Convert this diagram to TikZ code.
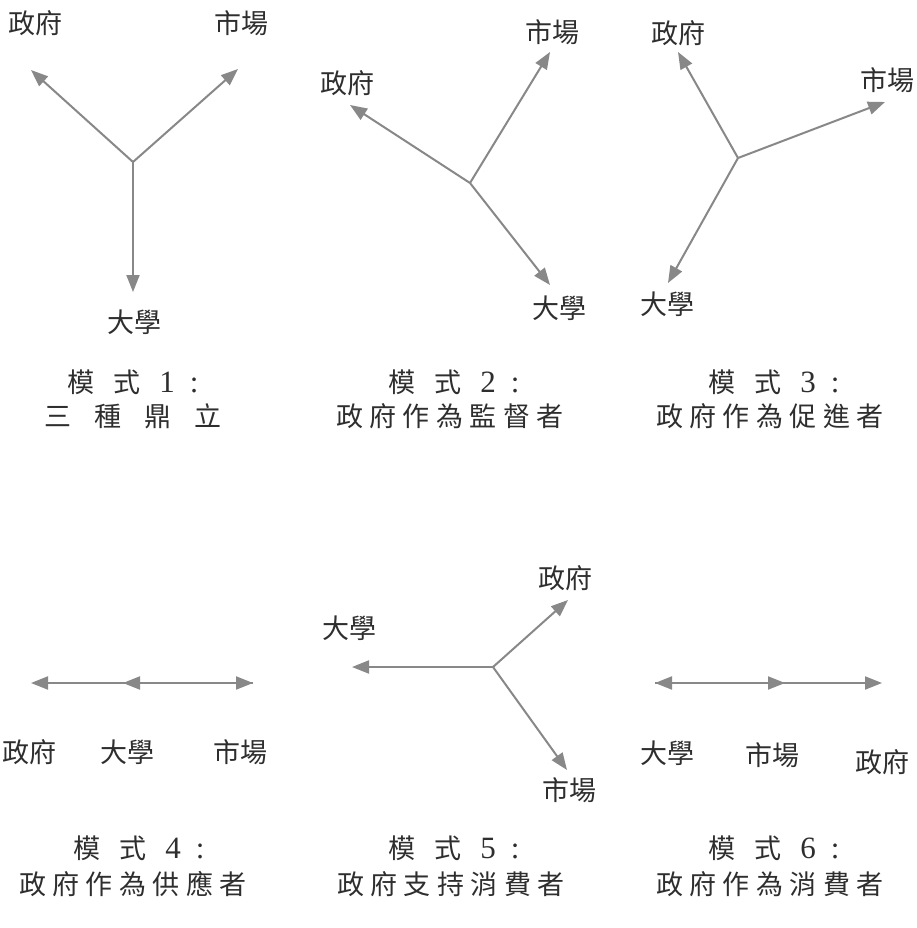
\documentclass[tikz,border=0pt]{standalone}
\usepackage{fontspec}
\setmainfont{Liberation Serif}
\newfontfamily\cjk{Noto Sans CJK TC}
\usetikzlibrary{arrows.meta}
\definecolor{arrgray}{HTML}{888888}
\newcommand\gp{\hspace{6.5pt}}
\newcommand\wgap[1]{\hspace{#1pt}}
\newcommand\dg[1]{{\rmfamily\fontsize{31}{31}\selectfont #1}}
\tikzset{
  arr/.style={draw=arrgray, line width=2pt, -{Triangle[length=17pt,width=13pt]}},
  lbl/.style={font=\cjk\fontsize{27}{30}\selectfont, inner sep=0pt, text=black!82},
  captxt/.style={font=\cjk\fontsize{27}{30}\selectfont, inner sep=0pt, text=black!82}
}
\begin{document}
\begin{tikzpicture}[x=1pt,y=-1pt]
\useasboundingbox (0,0) rectangle (916,928);
% ---------- Model 1
\coordinate (c1) at (133,162);
\coordinate (t1a) at (31,70);
\coordinate (t1b) at (238,69);
\coordinate (t1c) at (133,292);
\node[lbl] (g1) at (36,23) {政府};
\node[lbl] (m1) at (241,23) {市場};
\node[lbl] (u1) at (134,322) {大學};
\draw[arr] (c1) -- (t1a);
\draw[arr] (c1) -- (t1b);
\draw[arr] (c1) -- (t1c);
% ---------- Model 2
\coordinate (c2) at (470,183);
\coordinate (t2a) at (350,105);
\coordinate (t2b) at (550,52);
\coordinate (t2c) at (550,285);
\node[lbl] (g2) at (347,83) {政府};
\node[lbl] (m2) at (552,32) {市場};
\node[lbl] (u2) at (559,308) {大學};
\draw[arr] (c2) -- (t2a);
\draw[arr] (c2) -- (t2b);
\draw[arr] (c2) -- (t2c);
% ---------- Model 3
\coordinate (c3) at (738,158);
\coordinate (t3a) at (678,52);
\coordinate (t3b) at (885,102);
\coordinate (t3c) at (668,283);
\node[lbl] (g3) at (678,33) {政府};
\node[lbl] (m3) at (887,80) {市場};
\node[lbl] (u3) at (667,304) {大學};
\draw[arr] (c3) -- (t3a);
\draw[arr] (c3) -- (t3b);
\draw[arr] (c3) -- (t3c);
% ---------- Model 4
\coordinate (c4) at (123,683);
\coordinate (t4a) at (31,683);
\coordinate (t4b) at (253,683);
\node[lbl] (g4) at (29,752) {政府};
\node[lbl] (u4) at (127,752) {大學};
\node[lbl] (m4) at (240,752) {市場};
\draw[arr] (c4) -- (t4a);
\draw[arr] (t4b) -- (c4);
\draw[arr] (c4) -- (t4b);
% ---------- Model 5
\coordinate (c5) at (493,667);
\coordinate (t5a) at (352,667);
\coordinate (t5b) at (568,600);
\coordinate (t5c) at (567,770);
\node[lbl] (u5) at (349,628) {大學};
\node[lbl] (g5) at (565,578) {政府};
\node[lbl] (m5) at (569,790) {市場};
\draw[arr] (c5) -- (t5a);
\draw[arr] (c5) -- (t5b);
\draw[arr] (c5) -- (t5c);
% ---------- Model 6
\coordinate (c6) at (785,683);
\coordinate (t6a) at (655,683);
\coordinate (t6b) at (882,683);
\node[lbl] (u6) at (667,753) {大學};
\node[lbl] (m6) at (772,755) {市場};
\node[lbl] (g6) at (882,762) {政府};
\draw[arr] (c6) -- (t6a);
\draw[arr] (t6a) -- (c6);
\draw[arr] (c6) -- (t6b);
% ---------- Captions
\node[captxt] (k1a) at (133,382) {模\wgap{19}式\wgap{19}\dg{1}\wgap{15}\dg{:}};
\node[captxt] (k1b) at (133,416) {三\wgap{23}種\wgap{23}鼎\wgap{23}立};
\node[captxt] (k2a) at (454,382) {模\wgap{19}式\wgap{19}\dg{2}\wgap{15}\dg{:}};
\node[captxt] (k2b) at (450,416) {政\gp 府\gp 作\gp 為\gp 監\gp 督\gp 者};
\node[captxt] (k3a) at (774,382) {模\wgap{19}式\wgap{19}\dg{3}\wgap{15}\dg{:}};
\node[captxt] (k3b) at (770,416) {政\gp 府\gp 作\gp 為\gp 促\gp 進\gp 者};
\node[captxt] (k4a) at (139,848) {模\wgap{19}式\wgap{19}\dg{4}\wgap{15}\dg{:}};
\node[captxt] (k4b) at (133,884) {政\gp 府\gp 作\gp 為\gp 供\gp 應\gp 者};
\node[captxt] (k5a) at (454,848) {模\wgap{19}式\wgap{19}\dg{5}\wgap{15}\dg{:}};
\node[captxt] (k5b) at (451,884) {政\gp 府\gp 支\gp 持\gp 消\gp 費\gp 者};
\node[captxt] (k6a) at (774,848) {模\wgap{19}式\wgap{19}\dg{6}\wgap{15}\dg{:}};
\node[captxt] (k6b) at (770,884) {政\gp 府\gp 作\gp 為\gp 消\gp 費\gp 者};
\end{tikzpicture}
\end{document}
